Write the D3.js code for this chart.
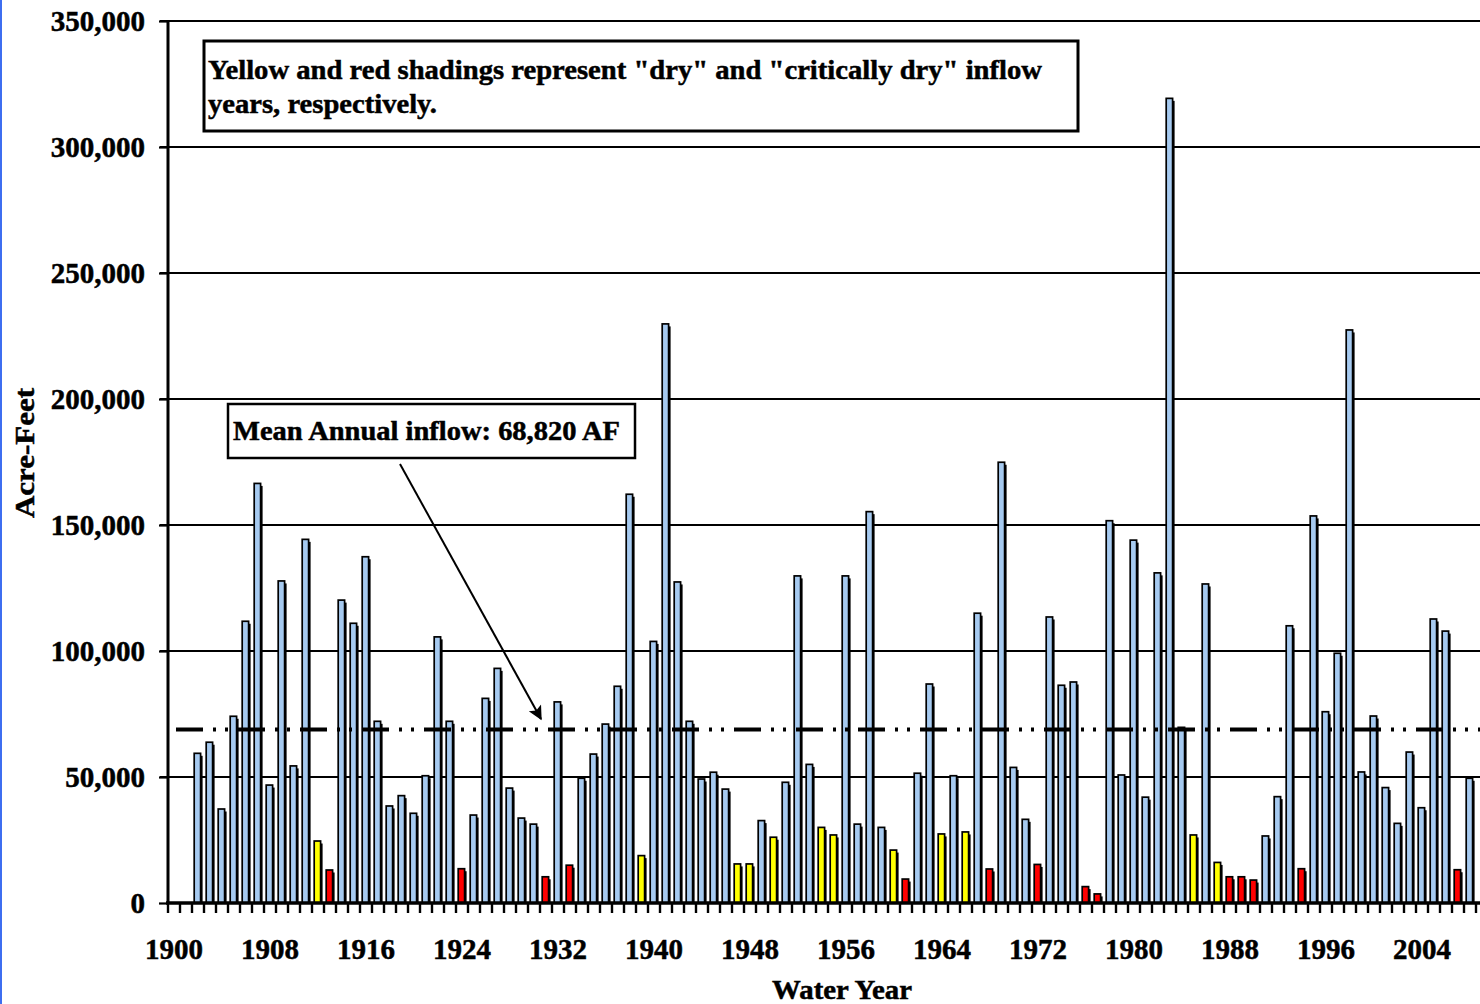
<!DOCTYPE html>
<html lang="en">
<head>
    <meta charset="utf-8">
    <title>Annual inflow by water year</title>
    <script type="text/javascript" src="https://cdn.jsdelivr.net/npm/d3@7"></script>
    <style>
        body { margin: 0; background: #fff; }
        text { font-family: "Liberation Serif", "Times New Roman", serif; font-weight: bold; fill: #000; stroke: #000; stroke-width: 0.5px; }
    </style>
</head>
<body>
    <div id="chart"></div>

    <script type="text/javascript">

            // water years shown on the axis, and the first year with data
            var axisFirstYear = 1900;
            var axisLastYear = 2008;
            var firstYear = 1902;

            // annual inflow, acre-feet, 1902 .. 2008
            var inflow = [
                59400, 63800, 37300, 74100, 111800, 166500, 46800, 127800, 54400, 144300,
                24600, 13100, 120200, 111000, 137400, 72100, 38500, 42600, 35600, 50500,
                105600, 72100, 13600, 34900, 81200, 93100, 45600, 33700, 31300, 10400,
                79800, 15000, 49500, 59100, 71000, 86000, 162200, 18800, 103800, 229800,
                127400, 72100, 49200, 51900, 45200, 15500, 15500, 32700, 26100, 47900,
                129800, 55000, 30000, 27000, 129800, 31300, 155300, 30000, 21000, 9500,
                51500, 86900, 27400, 50500, 28200, 115000, 13500, 174900, 53800, 33200,
                15300, 113500, 86400, 87700, 6500, 3600, 151700, 50800, 144000, 42000,
                131000, 319300, 69700, 27000, 126600, 16100, 10400, 10400, 9100, 26600,
                42200, 110000, 13600, 153600, 75900, 99100, 227400, 52000, 74200, 45800,
                31600, 59900, 37800, 112700, 107900, 13200, 49500
            ];

            // year type: n = normal/wet, d = dry (yellow), c = critically dry (red)
            var yearType = [
                "n","n","n","n","n","n","n","n","n","n",
                "d","c","n","n","n","n","n","n","n","n",
                "n","n","c","n","n","n","n","n","n","c",
                "n","c","n","n","n","n","n","d","n","n",
                "n","n","n","n","n","d","d","n","d","n",
                "n","n","d","d","n","n","n","n","d","c",
                "n","n","d","n","d","n","c","n","n","n",
                "c","n","n","n","c","c","n","n","n","n",
                "n","n","n","d","n","d","c","c","c","n",
                "n","n","c","n","n","n","n","n","n","n",
                "n","n","n","n","n","c","n"
            ];

            var yTicks = [0, 50000, 100000, 150000, 200000, 250000, 300000, 350000];
            var xLabelYears = [1900, 1908, 1916, 1924, 1932, 1940, 1948, 1956, 1964, 1972, 1980, 1988, 1996, 2004];
            var meanInflow = 68820;

            var colors = { n: "#a6caf0", d: "#ffff00", c: "#ff0000" };

            var data = inflow.map(function(v, i) {
                return { year: firstYear + i, value: v, type: yearType[i] };
            });

            var w = 1480;
            var h = 1004;

            var axisYears = d3.range(axisFirstYear, axisLastYear + 1);

            var x = d3.scaleBand()
                .domain(axisYears).range([168, 1476]);
            var y = d3.scaleLinear()
                .domain([0, 350000]).range([903, 21]);

            var svg = d3.select("#chart")
                .append("svg")
                .attr("width", w)
                .attr("height", h)

            // thin blue frame edge at the left
            svg.append("rect")
                .attr("x", 0).attr("y", 0)
                .attr("width", 2).attr("height", h)
                .attr("fill", "#3d6ef0")

            // gridlines
            svg.append("g")
                .selectAll("line")
                .data(yTicks.slice(1))
                .enter()
                .append("line")
                .attr("x1", 160).attr("x2", 1480)
                .attr("y1", function(d){return y(d);})
                .attr("y2", function(d){return y(d);})
                .attr("stroke", "#000")
                .attr("stroke-width", 2.2)

            // y axis
            var yAxis = svg.append("g")
                .attr("transform", "translate(168, 0)")
                .call(d3.axisLeft(y).tickValues(yTicks).tickSize(9).tickPadding(14)
                    .tickFormat(d3.format(",")))
            yAxis.select(".domain").attr("stroke-width", 3).attr("d", "M0,21V903")
            yAxis.selectAll(".tick line").attr("stroke-width", 2.2)
            yAxis.selectAll("text")
                .attr("font-size", 29)
                .attr("font-family", null)
                .attr("fill", null)
                .attr("dy", "0.34em")

            // bars: shadow first, then the bar itself
            var bars = svg.append("g");
            bars.selectAll(".shadow")
                .data(data)
                .enter()
                .append("rect")
                .attr("class", "shadow")
                .attr("x", function(d){return x(d.year) + 6;})
                .attr("y", function(d){return y(d.value) + 2.5;})
                .attr("width", 4.6)
                .attr("height", function(d){return Math.max(0, y(0) - y(d.value) - 2.5);})
                .attr("fill", "#000")

            bars.selectAll(".bar")
                .data(data)
                .enter()
                .append("rect")
                .attr("class", "bar")
                .attr("x", function(d){return x(d.year) + 2.2;})
                .attr("y", function(d){return y(d.value);})
                .attr("width", 6.4)
                .attr("height", function(d){return y(0) - y(d.value);})
                .attr("fill", function(d){return colors[d.type];})
                .attr("stroke", "#000")
                .attr("stroke-width", 1.7)

            // x axis: ticks between categories, labels every 8 years
            var xg = svg.append("g");
            xg.selectAll("line")
                .data(axisYears.concat([axisLastYear + 1]))
                .enter()
                .append("line")
                .attr("x1", function(d, i){return 168 + i * x.bandwidth();})
                .attr("x2", function(d, i){return 168 + i * x.bandwidth();})
                .attr("y1", 903).attr("y2", 913)
                .attr("stroke", "#000")
                .attr("stroke-width", 2.4)
            xg.append("line")
                .attr("x1", 166).attr("x2", 1480)
                .attr("y1", 903).attr("y2", 903)
                .attr("stroke", "#000")
                .attr("stroke-width", 3.5)
            xg.selectAll("text")
                .data(xLabelYears)
                .enter()
                .append("text")
                .attr("x", function(d){return x(d) + x.bandwidth() / 2;})
                .attr("y", 959)
                .attr("text-anchor", "middle")
                .attr("font-size", 29)
                .text(function(d){return d;})

            // mean annual inflow line
            svg.append("line")
                .attr("x1", 176).attr("x2", 1480)
                .attr("y1", y(meanInflow)).attr("y2", y(meanInflow))
                .attr("stroke", "#000")
                .attr("stroke-width", 4)
                .attr("stroke-dasharray", "27,10,3,9,3,10")

            // axis titles
            svg.append("text")
                .attr("x", 842).attr("y", 999)
                .attr("text-anchor", "middle")
                .attr("font-size", 28)
                .attr("textLength", 140)
                .attr("lengthAdjust", "spacingAndGlyphs")
                .text("Water Year")

            svg.append("text")
                .attr("transform", "translate(34, 453) rotate(-90)")
                .attr("text-anchor", "middle")
                .attr("font-size", 27)
                .attr("textLength", 130)
                .attr("lengthAdjust", "spacingAndGlyphs")
                .text("Acre-Feet")

            // note box at top
            svg.append("rect")
                .attr("x", 204).attr("y", 41)
                .attr("width", 874).attr("height", 90)
                .attr("fill", "#fff")
                .attr("stroke", "#000")
                .attr("stroke-width", 3)
            svg.append("text")
                .attr("x", 208).attr("y", 79)
                .attr("font-size", 28)
                .attr("textLength", 834)
                .attr("lengthAdjust", "spacingAndGlyphs")
                .text("Yellow and red shadings represent \"dry\" and \"critically dry\" inflow")
            svg.append("text")
                .attr("x", 208).attr("y", 113)
                .attr("font-size", 28)
                .attr("textLength", 229)
                .attr("lengthAdjust", "spacingAndGlyphs")
                .text("years, respectively.")

            // mean label with arrow
            var defs = svg.append("defs");
            defs.append("marker")
                .attr("id", "arrow")
                .attr("viewBox", "0 0 10 10")
                .attr("refX", 9).attr("refY", 5)
                .attr("markerUnits", "userSpaceOnUse")
                .attr("orient", "auto")
                .attr("markerWidth", 18).attr("markerHeight", 14)
                .append("path")
                .attr("d", "M0,0L10,5L0,10L2,5Z")
                .attr("fill", "#000")

            svg.append("rect")
                .attr("x", 228).attr("y", 404)
                .attr("width", 407).attr("height", 54)
                .attr("fill", "#fff")
                .attr("stroke", "#000")
                .attr("stroke-width", 2.5)
            svg.append("text")
                .attr("x", 233).attr("y", 440)
                .attr("font-size", 28)
                .attr("textLength", 387)
                .attr("lengthAdjust", "spacingAndGlyphs")
                .text("Mean Annual inflow: 68,820 AF")

            svg.append("line")
                .attr("x1", 400).attr("y1", 464)
                .attr("x2", 541).attr("y2", 719)
                .attr("stroke", "#000")
                .attr("stroke-width", 2)
                .attr("marker-end", "url(#arrow)")

        </script>
</body>
</html>
